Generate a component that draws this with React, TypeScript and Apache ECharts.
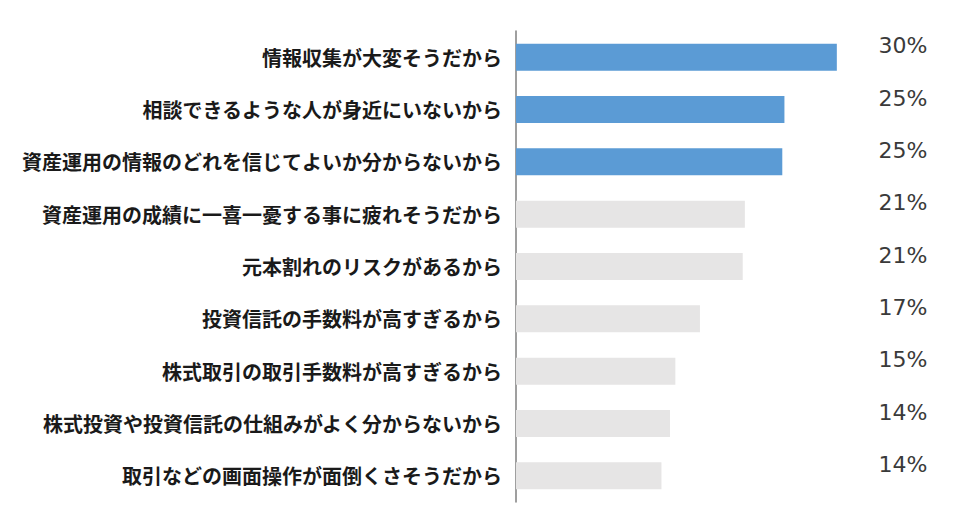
import React, { useEffect, useRef } from "react";
import * as echarts from "echarts";

const categories = [
  "情報収集が大変そうだから",
  "相談できるような人が身近にいないから",
  "資産運用の情報のどれを信じてよいか分からないから",
  "資産運用の成績に一喜一憂する事に疲れそうだから",
  "元本割れのリスクがあるから",
  "投資信託の手数料が高すぎるから",
  "株式取引の取引手数料が高すぎるから",
  "株式投資や投資信託の仕組みがよく分からないから",
  "取引などの画面操作が面倒くさそうだから",
];
const values = [30, 25.1, 24.9, 21.4, 21.2, 17.2, 14.9, 14.4, 13.6];
const percentLabels = ["30%", "25%", "25%", "21%", "21%", "17%", "15%", "14%", "14%"];
const highlightCount = 3;

const BLUE = "#5b9bd5";
const GREY = "#e6e5e5";

export default function App() {
  const ref = useRef<HTMLDivElement>(null);
  useEffect(() => {
    if (!ref.current) return;
    const chart = echarts.init(ref.current, undefined, { renderer: "svg" });
    chart.setOption({
      animation: false,
      backgroundColor: "#ffffff",
      grid: { left: 516, right: 59, top: 31, bottom: 12, containLabel: false },
      xAxis: {
        type: "value",
        min: 0,
        max: 36,
        show: false,
      },
      yAxis: {
        type: "category",
        inverse: true,
        data: categories,
        axisLine: { show: true, lineStyle: { color: "#7f7f7f", width: 1.5 } },
        axisTick: { show: false },
        axisLabel: {
          margin: 14,
          color: "#1a1a1a",
          fontSize: 20,
          fontWeight: "bold",
          fontFamily: "Noto Sans CJK JP",
        },
      },
      series: [
        {
          type: "bar",
          barWidth: 27,
          data: values.map((v, i) => ({
            value: v,
            itemStyle: { color: i < highlightCount ? BLUE : GREY },
          })),
          label: {
            show: true,
            position: [387, 2],
            align: "center",
            verticalAlign: "middle",
            formatter: (p: any) => percentLabels[p.dataIndex],
            color: "#3a3a3a",
            fontSize: 22,
            fontFamily: "DejaVu Sans",
          },
        },
      ],
    });
    return () => chart.dispose();
  }, []);
  return <div ref={ref} style={{ width: 960, height: 514, position: "absolute", left: 0, top: 0 }} />;
}
